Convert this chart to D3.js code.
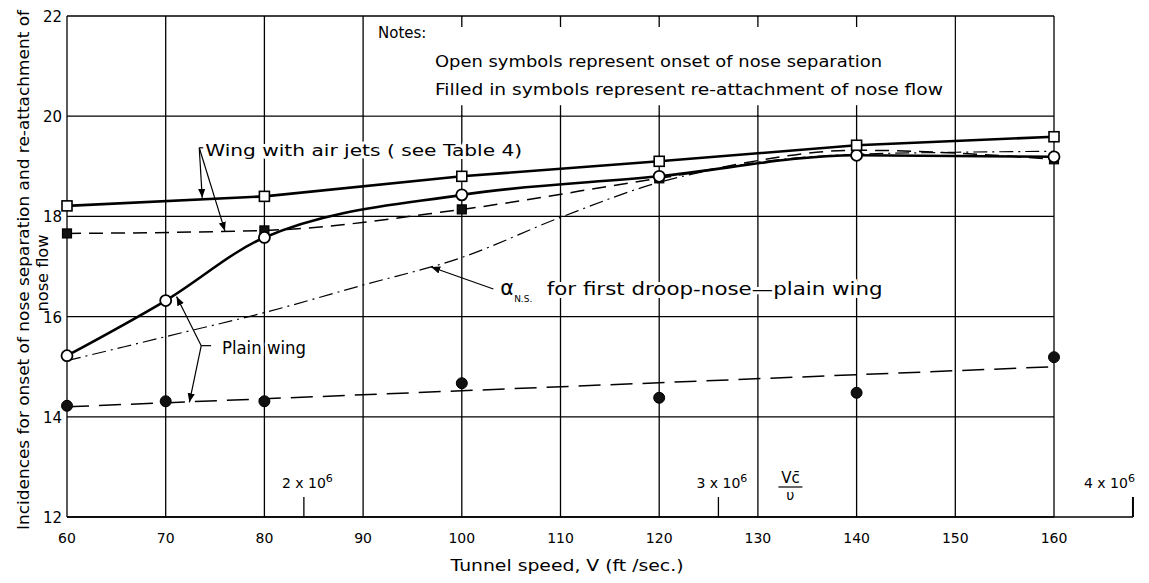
<!DOCTYPE html>
<html lang="en">
<head>
    <meta charset="UTF-8">
    <title>nose separation</title>
    <script src="https://d3js.org/d3.v7.min.js"></script>
    <style>
        body { margin: 0; background: white; }
        svg { display: block; }
        text { font-family: "DejaVu Sans", sans-serif; fill: black; }
        .halo { stroke: white; stroke-width: 6px; paint-order: stroke; stroke-linejoin: round; }
    </style>
</head>
<body>
    <svg></svg>
    <script>
        // data: tunnel speed (ft/sec) and incidence (deg)
        var jetOnsetV = [60, 80, 100, 120, 140, 160];
        var jetOnsetA = [18.21, 18.40, 18.80, 19.10, 19.42, 19.59];
        var jetReattachV = [60, 80, 100, 120, 140, 160];
        var jetReattachA = [17.66, 17.72, 18.14, 18.76, 19.32, 19.14];
        var plainOnsetV = [60, 70, 80, 100, 120, 140, 160];
        var plainOnsetA = [15.22, 16.32, 17.58, 18.43, 18.80, 19.22, 19.19];
        var plainReattachV = [60, 70, 80, 100, 120, 140, 160];
        var plainReattachA = [14.22, 14.31, 14.31, 14.67, 14.38, 14.48, 15.19];
        var plainFitV = [60, 160];
        var plainFitA = [14.20, 15.00];
        var droopV = [60, 70, 80, 90, 100, 110, 120, 130, 140, 150, 160];
        var droopA = [15.12, 15.60, 16.08, 16.63, 17.18, 17.98, 18.68, 19.08, 19.24, 19.28, 19.30];

        var xTicks = [60, 70, 80, 90, 100, 110, 120, 130, 140, 150, 160];
        var yTicks = [12, 14, 16, 18, 20, 22];
        var reTicks = [2, 3, 4];           // V c / nu, in millions
        var reSpeedPerMillion = 42;        // ft/sec per 1e6 Reynolds number

        var width = 1149, height = 583;
        var svg = d3.select("svg").attr("width", width).attr("height", height);

        var x = d3.scaleLinear().domain([60, 160]).range([67, 1054]);
        var y = d3.scaleLinear().domain([12, 22]).range([517, 16]);
        var xRe = d3.scaleLinear().domain([0, 4]).range([x(0), x(4 * reSpeedPerMillion)]);

        function pts(vs, as) { return vs.map(function(v, i) { return [v, as[i]]; }); }

        var defs = svg.append("defs");
        defs.append("marker").attr("id", "arrow")
            .attr("viewBox", "0 0 10 10").attr("refX", 10).attr("refY", 5)
            .attr("markerWidth", 9).attr("markerHeight", 9).attr("markerUnits", "userSpaceOnUse")
            .attr("orient", "auto")
            .append("path").attr("d", "M0,1 L10,5 L0,9 Z").attr("fill", "black");

        // grid
        var grid = svg.append("g").attr("stroke", "black").attr("stroke-width", 1.3);
        grid.selectAll("line.v").data(xTicks).enter().append("line")
            .attr("x1", d => x(d)).attr("x2", d => x(d))
            .attr("y1", y(22)).attr("y2", y(12));
        grid.selectAll("line.h").data(yTicks).enter().append("line")
            .attr("x1", x(60)).attr("x2", x(160))
            .attr("y1", d => y(d)).attr("y2", d => y(d));

        // notes box hides the grid inside it, leaving short stubs
        svg.append("rect")
            .attr("x", x(90) + 1).attr("y", y(22) + 1)
            .attr("width", x(150) - x(90) - 2).attr("height", y(20) - y(22) - 2)
            .attr("fill", "white");
        var stubs = svg.append("g").attr("stroke", "black").attr("stroke-width", 1.3);
        [100, 110, 120, 130, 140].forEach(function(v) {
            stubs.append("line").attr("x1", x(v)).attr("x2", x(v)).attr("y1", y(22)).attr("y2", y(22) + 11);
            stubs.append("line").attr("x1", x(v)).attr("x2", x(v)).attr("y1", y(20) - 11).attr("y2", y(20));
        });

        // bottom axis line extended for Reynolds scale
        svg.append("line").attr("x1", x(60)).attr("x2", xRe(4))
            .attr("y1", y(12)).attr("y2", y(12)).attr("stroke", "black").attr("stroke-width", 1.6);
        svg.append("g").selectAll("line").data(reTicks).enter().append("line")
            .attr("x1", d => xRe(d)).attr("x2", d => xRe(d))
            .attr("y1", y(12) - 20).attr("y2", y(12))
            .attr("stroke", "black").attr("stroke-width", d => d === 4 ? 2 : 1.3);
        var reLab = svg.append("g").style("font-size", "14px");
        reTicks.forEach(function(d) {
            var t = reLab.append("text").attr("x", xRe(d) - (d === 4 ? 49 : 22)).attr("y", y(12) - 29);
            t.append("tspan").text(d + " x 10");
            t.append("tspan").attr("dy", -6).style("font-size", "11px").text("6");
        });
        var frac = svg.append("g").attr("transform", "translate(" + (xRe(3) + 72) + "," + (y(12) - 30) + ")");
        frac.append("text").attr("x", 0).attr("y", -4).attr("text-anchor", "middle").style("font-size", "15px").text("Vc\u0304");
        frac.append("line").attr("x1", -12).attr("x2", 12).attr("y1", 0).attr("y2", 0).attr("stroke", "black").attr("stroke-width", 1.2);
        frac.append("text").attr("x", 0).attr("y", 13).attr("text-anchor", "middle").style("font-size", "14px").text("\u03c5");

        // tick labels
        svg.append("g").selectAll("text").data(xTicks).enter().append("text")
            .attr("x", d => x(d)).attr("y", 543)
            .attr("text-anchor", "middle").style("font-size", "14px")
            .text(d => d);
        svg.append("g").selectAll("text").data(yTicks).enter().append("text")
            .attr("x", 62).attr("y", d => y(d) + 6)
            .attr("text-anchor", "end").style("font-size", "15px")
            .text(d => d);

        // axis titles
        svg.append("text").attr("x", 567).attr("y", 571).attr("text-anchor", "middle")
            .style("font-size", "16px").attr("textLength", 233).attr("lengthAdjust", "spacingAndGlyphs")
            .text("Tunnel speed,  V (ft /sec.)");
        svg.append("text").attr("transform", "translate(29,270) rotate(-90)").attr("text-anchor", "middle")
            .style("font-size", "16px").attr("textLength", 520).attr("lengthAdjust", "spacingAndGlyphs")
            .text("Incidences for  onset of nose separation and re-attachment of");
        svg.append("text").attr("transform", "translate(48,273) rotate(-90)").attr("text-anchor", "middle")
            .style("font-size", "16px").attr("textLength", 77).attr("lengthAdjust", "spacingAndGlyphs")
            .text("nose flow");

        // notes
        svg.append("text").attr("x", 378).attr("y", 38).style("font-size", "15px").text("Notes:");
        svg.append("text").attr("x", 435).attr("y", 67).style("font-size", "15px")
            .attr("textLength", 447).attr("lengthAdjust", "spacingAndGlyphs")
            .text("Open symbols represent onset  of  nose  separation");
        svg.append("text").attr("x", 435).attr("y", 95).style("font-size", "15px")
            .attr("textLength", 508).attr("lengthAdjust", "spacingAndGlyphs")
            .text("Filled in  symbols  represent  re-attachment of nose flow");

        // annotation labels with white halo so grid breaks around them
        svg.append("text").attr("class", "halo").attr("x", x(74)).attr("y", y(19.2))
            .style("font-size", "16px").attr("textLength", 317).attr("lengthAdjust", "spacingAndGlyphs")
            .text("Wing with air jets ( see Table 4)");
        svg.append("text").attr("class", "halo").attr("x", x(75.7)).attr("y", y(15.25))
            .style("font-size", "17px").attr("textLength", 84).attr("lengthAdjust", "spacingAndGlyphs")
            .text("Plain wing");
        var alpha = svg.append("text").attr("class", "halo").attr("x", x(103.9)).attr("y", y(16.44)).style("font-size", "21px");
        alpha.append("tspan").text("\u03b1");
        alpha.append("tspan").attr("dy", 7).style("font-size", "9px").text("N.S.");
        svg.append("text").attr("class", "halo").attr("x", x(108.6)).attr("y", y(16.44))
            .style("font-size", "17px").attr("textLength", 336).attr("lengthAdjust", "spacingAndGlyphs")
            .text("for first droop-nose\u2014plain wing");

        // leaders
        var lead = svg.append("g").attr("stroke", "black").attr("stroke-width", 1.2).attr("fill", "none");
        function leader(a, b) {
            lead.append("line").attr("x1", x(a[0])).attr("y1", y(a[1]))
                .attr("x2", x(b[0])).attr("y2", y(b[1])).attr("marker-end", "url(#arrow)");
        }
        lead.append("line").attr("x1", x(73.4)).attr("x2", x(73.8)).attr("y1", y(19.37)).attr("y2", y(19.37));
        leader([73.4, 19.37], [73.7, 18.37]);
        leader([73.4, 19.37], [76.0, 17.71]);
        lead.append("line").attr("x1", x(73.6)).attr("x2", x(74.6)).attr("y1", y(15.42)).attr("y2", y(15.42));
        leader([73.6, 15.42], [71.1, 16.40]);
        leader([73.6, 15.42], [72.4, 14.29]);
        leader([103.2, 16.55], [96.9, 16.99]);

        // series lines
        var lines = svg.append("g").attr("fill", "none").attr("stroke", "black");
        var lineLinear = d3.line().x(d => x(d[0])).y(d => y(d[1]));
        var lineSmooth = d3.line().x(d => x(d[0])).y(d => y(d[1])).curve(d3.curveMonotoneX);

        lines.append("path").datum(pts(droopV, droopA)).attr("d", lineSmooth)
            .attr("stroke-width", 1.2).attr("stroke-dasharray", "14,5,2,5");
        lines.append("path").datum(pts(plainFitV, plainFitA)).attr("d", lineLinear)
            .attr("stroke-width", 1.5).attr("stroke-dasharray", "22,10");
        lines.append("path").datum(pts(jetReattachV, jetReattachA)).attr("d", lineSmooth)
            .attr("stroke-width", 1.5).attr("stroke-dasharray", "14,8");
        lines.append("path").datum(pts(plainOnsetV, plainOnsetA)).attr("d", lineSmooth)
            .attr("stroke-width", 2.6);
        lines.append("path").datum(pts(jetOnsetV, jetOnsetA)).attr("d", lineLinear)
            .attr("stroke-width", 2.6);

        // markers
        var sq = 10;
        svg.append("g").selectAll("rect").data(pts(jetReattachV, jetReattachA)).enter().append("rect")
            .attr("x", d => x(d[0]) - (sq - 1) / 2).attr("y", d => y(d[1]) - (sq - 1) / 2)
            .attr("width", sq - 1).attr("height", sq - 1)
            .attr("fill", "#111").attr("stroke", "black").attr("stroke-width", 1.2);
        svg.append("g").selectAll("circle").data(pts(plainReattachV, plainReattachA)).enter().append("circle")
            .attr("cx", d => x(d[0])).attr("cy", d => y(d[1])).attr("r", 5.5)
            .attr("fill", "#111").attr("stroke", "black");
        svg.append("g").selectAll("circle").data(pts(plainOnsetV, plainOnsetA)).enter().append("circle")
            .attr("cx", d => x(d[0])).attr("cy", d => y(d[1])).attr("r", 5.5)
            .attr("fill", "white").attr("stroke", "black").attr("stroke-width", 1.8);
        svg.append("g").selectAll("rect").data(pts(jetOnsetV, jetOnsetA)).enter().append("rect")
            .attr("x", d => x(d[0]) - sq / 2).attr("y", d => y(d[1]) - sq / 2)
            .attr("width", sq).attr("height", sq)
            .attr("fill", "white").attr("stroke", "black").attr("stroke-width", 1.6);
    </script>
</body>
</html>
